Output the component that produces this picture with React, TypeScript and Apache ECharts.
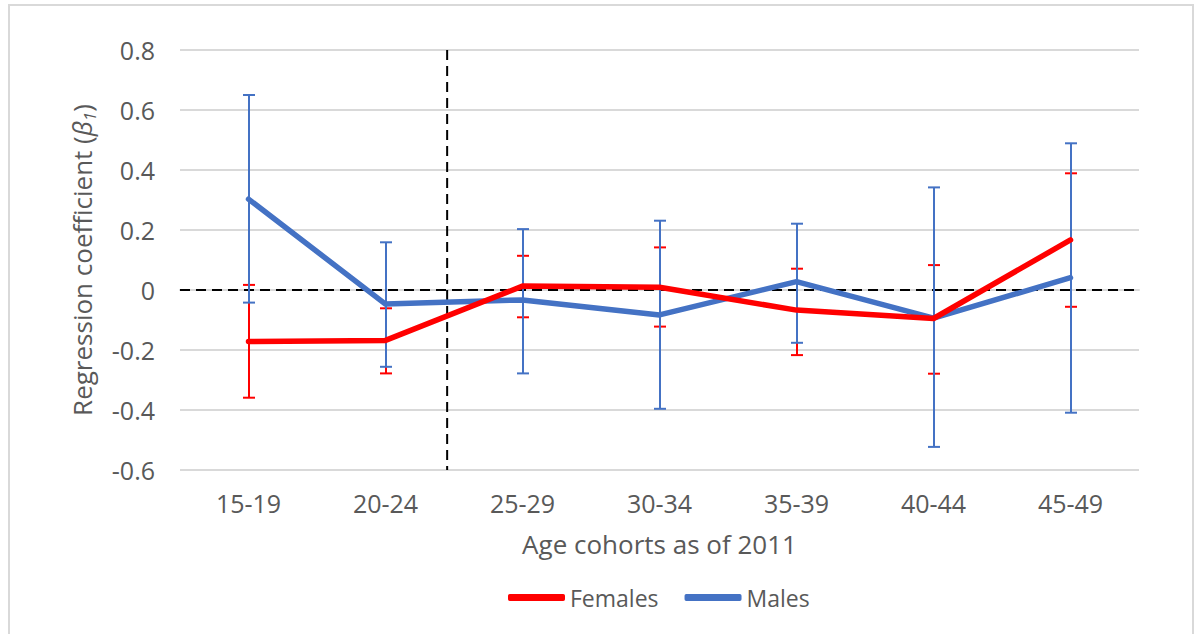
import React, { useEffect, useRef } from "react";
import * as echarts from "echarts";

const categories = ["15-19", "20-24", "25-29", "30-34", "35-39", "40-44", "45-49"];
const femalesValues = [-0.172, -0.168, 0.013, 0.009, -0.067, -0.095, 0.167];
const femalesLow = [-0.359, -0.278, -0.091, -0.122, -0.217, -0.279, -0.056];
const femalesHigh = [0.017, -0.061, 0.114, 0.142, 0.071, 0.083, 0.389];
const malesValues = [0.303, -0.047, -0.033, -0.083, 0.028, -0.094, 0.041];
const malesLow = [-0.042, -0.256, -0.278, -0.396, -0.176, -0.523, -0.409];
const malesHigh = [0.65, 0.159, 0.203, 0.231, 0.221, 0.342, 0.489];
const dividerPosition = 1.45;
const yTicks = { min: -0.6, max: 0.8, interval: 0.2 };

const RED = "#FF0000";
const BLUE = "#4472C4";
const TEXT = "#595959";
const FONT = "Open Sans";

function errRender(color: string, capW: number) {
  return (params: any, api: any) => {
    const x = api.value(0);
    const lo = api.value(1);
    const hi = api.value(2);
    const pLo = api.coord([x, lo]);
    const pHi = api.coord([x, hi]);
    const cx = Math.round(pHi[0]);
    const h = capW / 2;
    const st = { stroke: color, lineWidth: 2 };
    return {
      type: "group",
      children: [
        { type: "line", shape: { x1: cx, y1: pHi[1], x2: cx, y2: pLo[1] }, style: st },
        { type: "line", shape: { x1: cx - h, y1: pHi[1], x2: cx + h, y2: pHi[1] }, style: st },
        { type: "line", shape: { x1: cx - h, y1: pLo[1], x2: cx + h, y2: pLo[1] }, style: st },
      ],
    };
  };
}

export default function App() {
  const ref = useRef<HTMLDivElement>(null);
  useEffect(() => {
    document.body.style.margin = "0";
    const chart = echarts.init(ref.current!, null, { renderer: "svg" });
    const fData = categories.map((_, i) => [i, femalesLow[i], femalesHigh[i]]);
    const mData = categories.map((_, i) => [i, malesLow[i], malesHigh[i]]);
    const splitColors = ["#D9D9D9", "#D9D9D9", "#D9D9D9", "rgba(0,0,0,0)", "#D9D9D9", "#D9D9D9", "#D9D9D9", "#D9D9D9"];
    chart.setOption({
      animation: false,
      backgroundColor: "#fff",
      graphic: [
        {
          type: "rect",
          shape: { x: 9, y: 5, width: 1184, height: 700 },
          style: { fill: "none", stroke: "#D9D9D9", lineWidth: 2 },
          silent: true,
        },
      ],
      grid: { left: 180, top: 50, width: 959, height: 420 },
      legend: {
        data: ["Females", "Males"],
        left: 508,
        top: 586,
        padding: 0,
        icon: "roundRect",
        itemWidth: 57,
        itemHeight: 7,
        itemGap: 26,
        textStyle: { color: TEXT, fontSize: 23, fontFamily: FONT },
      },
      xAxis: [
        {
          type: "category",
          data: categories,
          axisLine: { show: true, lineStyle: { color: "#D9D9D9", width: 2 } },
          axisTick: { show: false },
          axisLabel: { color: TEXT, fontSize: 25, fontFamily: FONT, margin: 20 },
          name: "Age cohorts as of 2011",
          nameLocation: "middle",
          nameGap: 61,
          nameTextStyle: { color: TEXT, fontSize: 26, fontFamily: FONT },
        },
        { type: "value", min: -0.5, max: 6.5, show: false },
      ],
      yAxis: {
        type: "value",
        min: yTicks.min,
        max: yTicks.max,
        interval: yTicks.interval,
        axisLine: { show: false },
        axisTick: { show: false },
        axisLabel: {
          color: TEXT,
          fontSize: 25,
          fontFamily: FONT,
          margin: 25,
          formatter: (v: number) => (Math.abs(v) < 1e-9 ? "0" : String(Math.round(v * 10) / 10)),
        },
        splitLine: { show: true, lineStyle: { color: splitColors, width: 2 } },
        name: "{t|Regression coefficient (}{b|β}{s|1}{t|)}",
        nameLocation: "middle",
        nameGap: 82,
        nameTextStyle: {
          color: TEXT,
          fontFamily: FONT,
          rich: {
            t: { fontSize: 26, color: TEXT, fontFamily: FONT, lineHeight: 32 },
            b: { fontSize: 26, color: TEXT, fontFamily: FONT, fontStyle: "italic", lineHeight: 32 },
            s: { fontSize: 17, color: TEXT, fontFamily: FONT, fontStyle: "italic", verticalAlign: "bottom", lineHeight: 18 },
          },
        },
      },
      series: [
        {
          type: "line",
          xAxisIndex: 1,
          data: [[-0.5, 0], [6.5, 0]],
          showSymbol: false,
          lineStyle: { color: "#000", width: 2, type: [10, 6] },
          silent: true,
          z: 1,
        },
        {
          type: "line",
          xAxisIndex: 1,
          data: [[dividerPosition, yTicks.max], [dividerPosition, yTicks.min]],
          showSymbol: false,
          lineStyle: { color: "#000", width: 2, type: [10, 6] },
          silent: true,
          z: 1,
        },
        {
          type: "custom",
          name: "Females err",
          data: fData,
          encode: { x: 0, y: [1, 2] },
          renderItem: errRender(RED, 12),
          silent: true,
          z: 2,
        },
        {
          type: "custom",
          name: "Males err",
          data: mData,
          encode: { x: 0, y: [1, 2] },
          renderItem: errRender(BLUE, 12),
          silent: true,
          z: 3,
        },
        {
          type: "line",
          name: "Males",
          data: malesValues,
          showSymbol: false,
          color: BLUE,
          lineStyle: { color: BLUE, width: 5.5, cap: "round", join: "round" },
          z: 4,
        },
        {
          type: "line",
          name: "Females",
          data: femalesValues,
          showSymbol: false,
          color: RED,
          lineStyle: { color: RED, width: 5.5, cap: "round", join: "round" },
          z: 5,
        },
      ],
    });
    return () => chart.dispose();
  }, []);
  return <div ref={ref} style={{ width: 1194, height: 634 }} />;
}
